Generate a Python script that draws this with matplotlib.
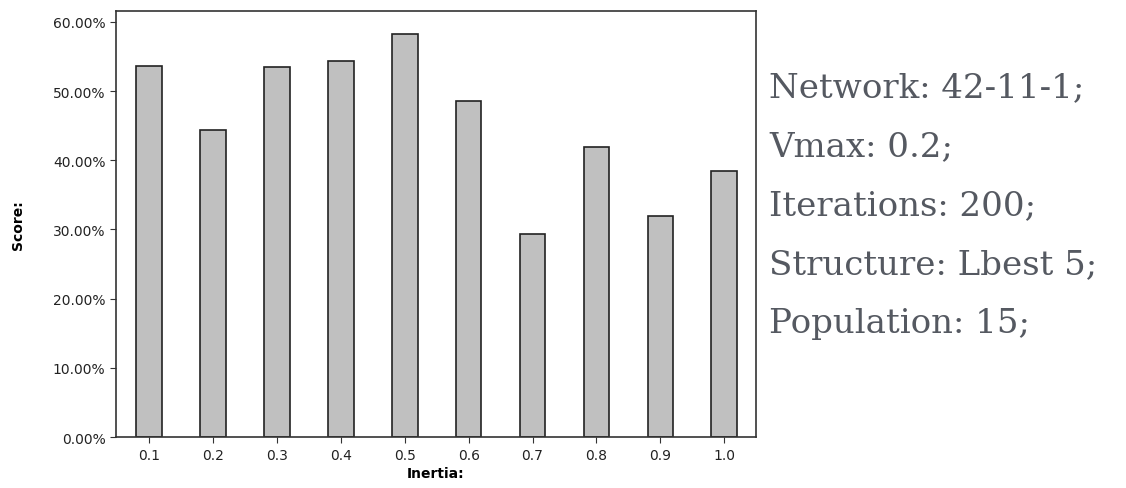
import numpy as np
import matplotlib.pyplot as plt
from matplotlib.ticker import FuncFormatter

# data
inertia = ["0.1", "0.2", "0.3", "0.4", "0.5", "0.6", "0.7", "0.8", "0.9", "1.0"]
score = [53.6, 44.3, 53.4, 54.3, 58.2, 48.6, 29.3, 41.9, 31.9, 38.4]
y_ticks = [0, 10, 20, 30, 40, 50, 60]
notes = ["Network: 42-11-1;", "Vmax: 0.2;", "Iterations: 200;",
         "Structure: Lbest 5;", "Population: 15;"]

fig = plt.figure(figsize=(11.26, 4.89), dpi=100)
ax = fig.add_axes([0.103, 0.104, 0.568, 0.872])

x = np.arange(len(inertia))
ax.bar(x, score, width=0.4, color="#c0c0c0", edgecolor="#222222", linewidth=1.2)

ax.set_xlim(-0.52, 9.49)
ax.set_ylim(0, 61.6)
ax.set_xticks(x)
ax.set_xticklabels(inertia)
ax.set_yticks(y_ticks)
ax.yaxis.set_major_formatter(FuncFormatter(lambda v, p: "%.2f%%" % v))
ax.tick_params(labelsize=10, length=4, color="#333333", labelcolor="#222222")
ax.tick_params(axis="x", pad=4)

for s in ax.spines.values():
    s.set_color("#333333")
    s.set_linewidth(1.2)

ax.set_xlabel("Inertia:", fontsize=10, fontweight="bold", labelpad=3)
ax.set_ylabel("Score:", fontsize=10, fontweight="bold", labelpad=20)

# parameter text on the right
for i, t in enumerate(notes):
    fig.text(0.683, 0.82 - i * 0.1205, t, fontsize=24.5, family="DejaVu Serif",
             color="#555961", va="center")

fig.savefig("out.png")
